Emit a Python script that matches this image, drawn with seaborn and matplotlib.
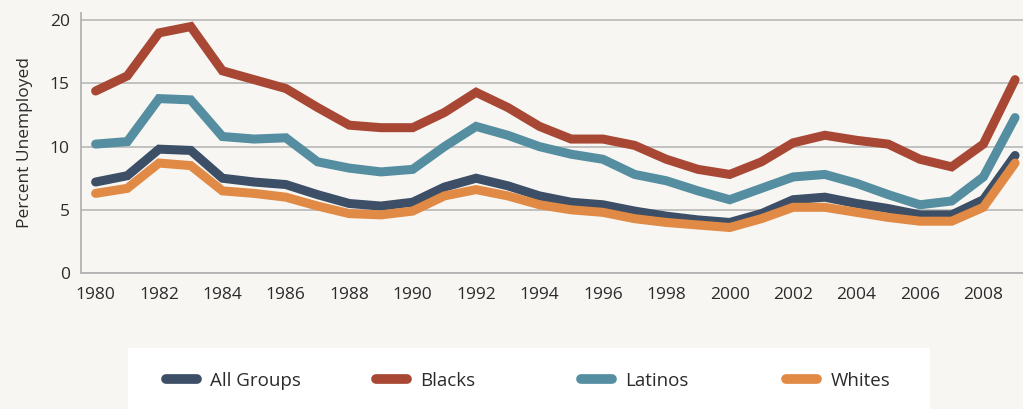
import numpy as np
import pandas as pd
import seaborn as sns
import matplotlib.pyplot as plt
from matplotlib.patches import Rectangle

years = list(range(1980, 2010))
all_groups = [7.2, 7.7, 9.8, 9.7, 7.5, 7.2, 7.0, 6.2, 5.5, 5.3, 5.6, 6.8, 7.5, 6.9, 6.1,
              5.6, 5.4, 4.9, 4.5, 4.2, 4.0, 4.7, 5.8, 6.0, 5.5, 5.1, 4.6, 4.6, 5.8, 9.3]
blacks = [14.4, 15.6, 19.0, 19.5, 16.0, 15.3, 14.6, 13.1, 11.7, 11.5, 11.5, 12.7, 14.3, 13.1, 11.6,
          10.6, 10.6, 10.1, 9.0, 8.2, 7.8, 8.8, 10.3, 10.9, 10.5, 10.2, 9.0, 8.4, 10.2, 15.3]
latinos = [10.2, 10.4, 13.8, 13.7, 10.8, 10.6, 10.7, 8.8, 8.3, 8.0, 8.2, 10.0, 11.6, 10.9, 10.0,
           9.4, 9.0, 7.8, 7.3, 6.5, 5.8, 6.7, 7.6, 7.8, 7.1, 6.2, 5.4, 5.7, 7.6, 12.3]
whites = [6.3, 6.7, 8.7, 8.5, 6.5, 6.3, 6.0, 5.3, 4.7, 4.6, 4.9, 6.1, 6.6, 6.1, 5.4,
          5.0, 4.8, 4.3, 4.0, 3.8, 3.6, 4.3, 5.2, 5.2, 4.8, 4.4, 4.1, 4.1, 5.2, 8.7]
groups = ['All Groups', 'Blacks', 'Latinos', 'Whites']
colors = ['#3d4f66', '#a84834', '#548ea0', '#e08a45']

df = pd.DataFrame({'year': years * 4,
                   'rate': all_groups + blacks + latinos + whites,
                   'group': np.repeat(groups, len(years))})

sns.set_style('white')
plt.rcParams['font.family'] = ['Open Sans', 'DejaVu Sans']
bg = '#f7f6f3'
grid_c = '#b3b3b3'
text_c = '#2b2b2b'

fig = plt.figure(figsize=(10.23, 4.09), dpi=100, facecolor=bg)
ax = fig.add_axes([0.0792, 0.3325, 0.9208, 0.6365], facecolor=bg)

sns.lineplot(data=df, x='year', y='rate', hue='group', hue_order=groups,
             palette=colors, linewidth=6.5, solid_capstyle='round',
             solid_joinstyle='miter', ax=ax, legend=False)

ax.set_xlim(1979.54, 2009.25)
ax.set_ylim(0, 20.6)
ax.set_yticks([0, 5, 10, 15, 20])
ax.yaxis.grid(True, color=grid_c, linewidth=1.1)
ax.set_axisbelow(True)
ax.set_xticks(years)
ax.set_xticklabels([str(y) if y % 2 == 0 else '' for y in years])
ax.tick_params(axis='x', length=6, width=1.1, color=grid_c, labelsize=12.5,
               labelcolor=text_c, pad=4)
ax.tick_params(axis='y', length=0, labelsize=12.5, labelcolor=text_c, pad=8)
for s in ['top', 'right']:
    ax.spines[s].set_visible(False)
for s in ['left', 'bottom']:
    ax.spines[s].set_color(grid_c)
    ax.spines[s].set_linewidth(1.3)
ax.set_xlabel('')
ax.set_ylabel('Percent Unemployed', fontsize=12.5, color=text_c, labelpad=12)

# white legend band
fig.patches.append(Rectangle((0.125, 0), 0.784, 0.149, transform=fig.transFigure,
                             facecolor='white', edgecolor='none', zorder=0))
legend_x = [166, 376, 581, 786]
for g, c, lx in zip(groups, colors, legend_x):
    h = plt.Line2D([], [], color=c, linewidth=7, solid_capstyle='round')
    leg = fig.legend([h], [g], loc='center left', bbox_to_anchor=(lx / 1023, 0.069),
                     frameon=False, fontsize=13.5, handlelength=1.65, handletextpad=0.72,
                     borderpad=0, borderaxespad=0)
    for t in leg.get_texts():
        t.set_color(text_c)

fig.savefig('out.png', dpi=100, facecolor=bg)
